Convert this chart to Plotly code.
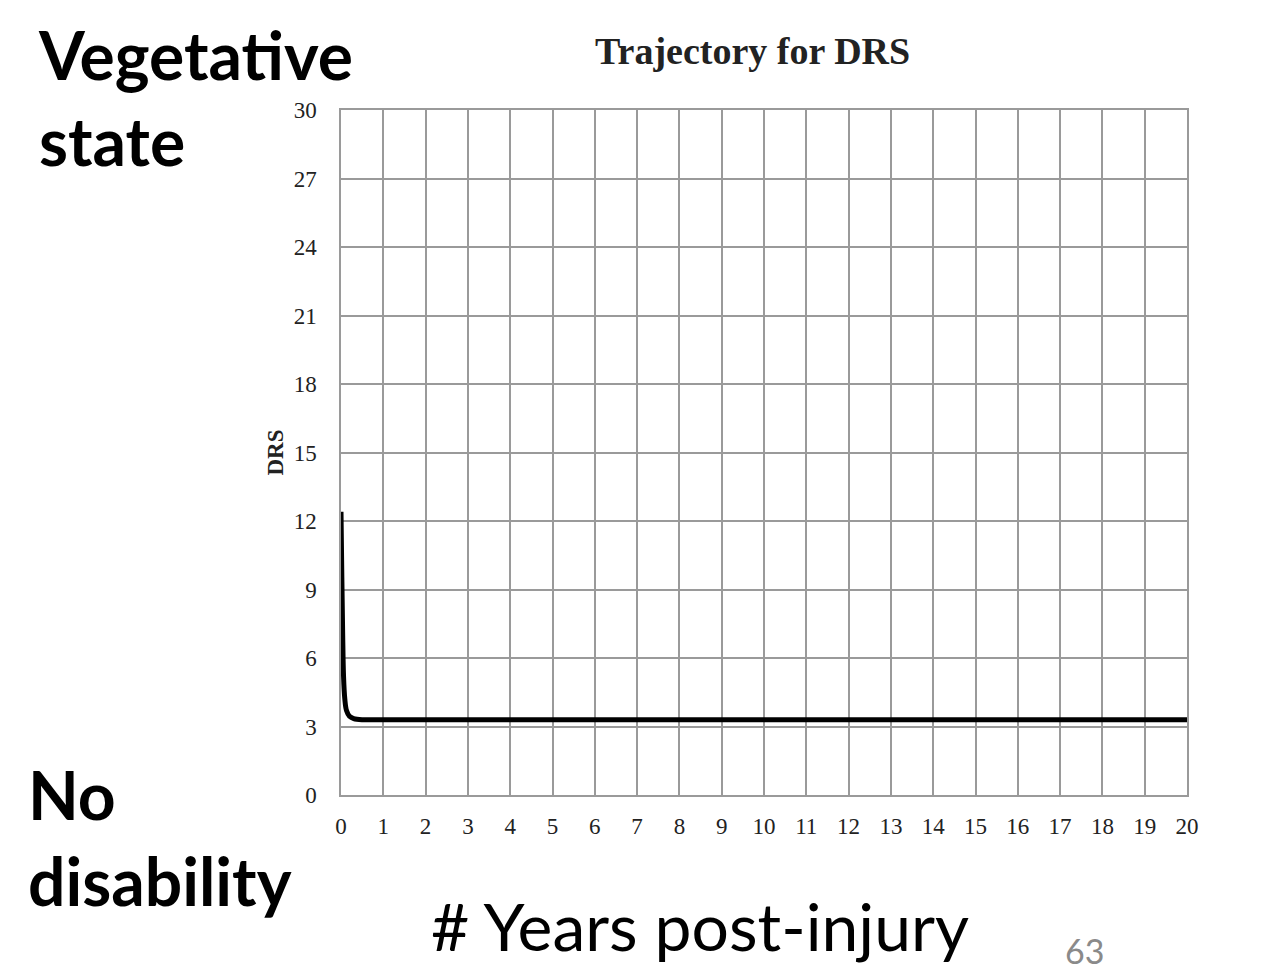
import plotly.graph_objects as go

years = [0, 0.02, 0.04, 0.06, 0.09, 0.13, 0.2, 0.3, 0.5, 1, 5, 10, 15, 20]
drs = [12.4, 9.5, 7.0, 5.2, 4.2, 3.7, 3.45, 3.35, 3.3, 3.3, 3.3, 3.3, 3.3, 3.3]
x_ticks = list(range(0, 21))
y_ticks = list(range(0, 31, 3))

L, R, T, B = 333, 86, 102, 193
fig = go.Figure(go.Scatter(x=years, y=drs, mode="lines",
                           line=dict(color="black", width=5, shape="spline"),
                           hoverinfo="skip"))
axis_font = dict(family="Liberation Serif", size=23, color="#222")
fig.update_layout(
    width=1265, height=980, paper_bgcolor="white", plot_bgcolor="white",
    margin=dict(l=L, r=R, t=T, b=B), showlegend=False,
    xaxis=dict(range=[0, 20], tickvals=x_ticks, showgrid=True, gridcolor="#9a9a9a",
               gridwidth=1.5, zeroline=False, showline=True, linecolor="#9a9a9a",
               linewidth=1.5, mirror=True, tickfont=axis_font, ticks="",
               ticklabelstandoff=10),
    yaxis=dict(range=[0, 30], tickvals=y_ticks, showgrid=True, gridcolor="#9a9a9a",
               gridwidth=1.5, zeroline=False, showline=True, linecolor="#9a9a9a",
               linewidth=1.5, mirror=True, tickfont=axis_font, ticks="",
               ticklabelstandoff=18,
               title=dict(text="<b>DRS</b>", font=axis_font, standoff=4)),
)
pw, ph = 1265 - L - R, 980 - T - B
anns = [
    ("<b>Trajectory for DRS</b>", 744, 20, "center", "top", 38, "Liberation Serif", "#222"),
    ("<b>Vegetative<br>state</b>", 28, 5, "left", "top", 66, "Lato", "black"),
    ("<b>No<br>disability</b>", 18, 745, "left", "top", 66, "Lato", "black"),
    ("# Years post-injury", 692, 917, "center", "middle", 66, "Lato", "black"),
    ("63", 1076, 942, "center", "middle", 34, "Lato", "#8a8a8a"),
]
for text, X, Y, xa, ya, size, fam, col in anns:
    fig.add_annotation(text=text, x=(X - L) / pw, y=(980 - B - Y) / ph,
                       xref="paper", yref="paper", showarrow=False, align="left",
                       xanchor=xa, yanchor=ya, font=dict(family=fam, size=size, color=col))
fig.write_html("out.html")
